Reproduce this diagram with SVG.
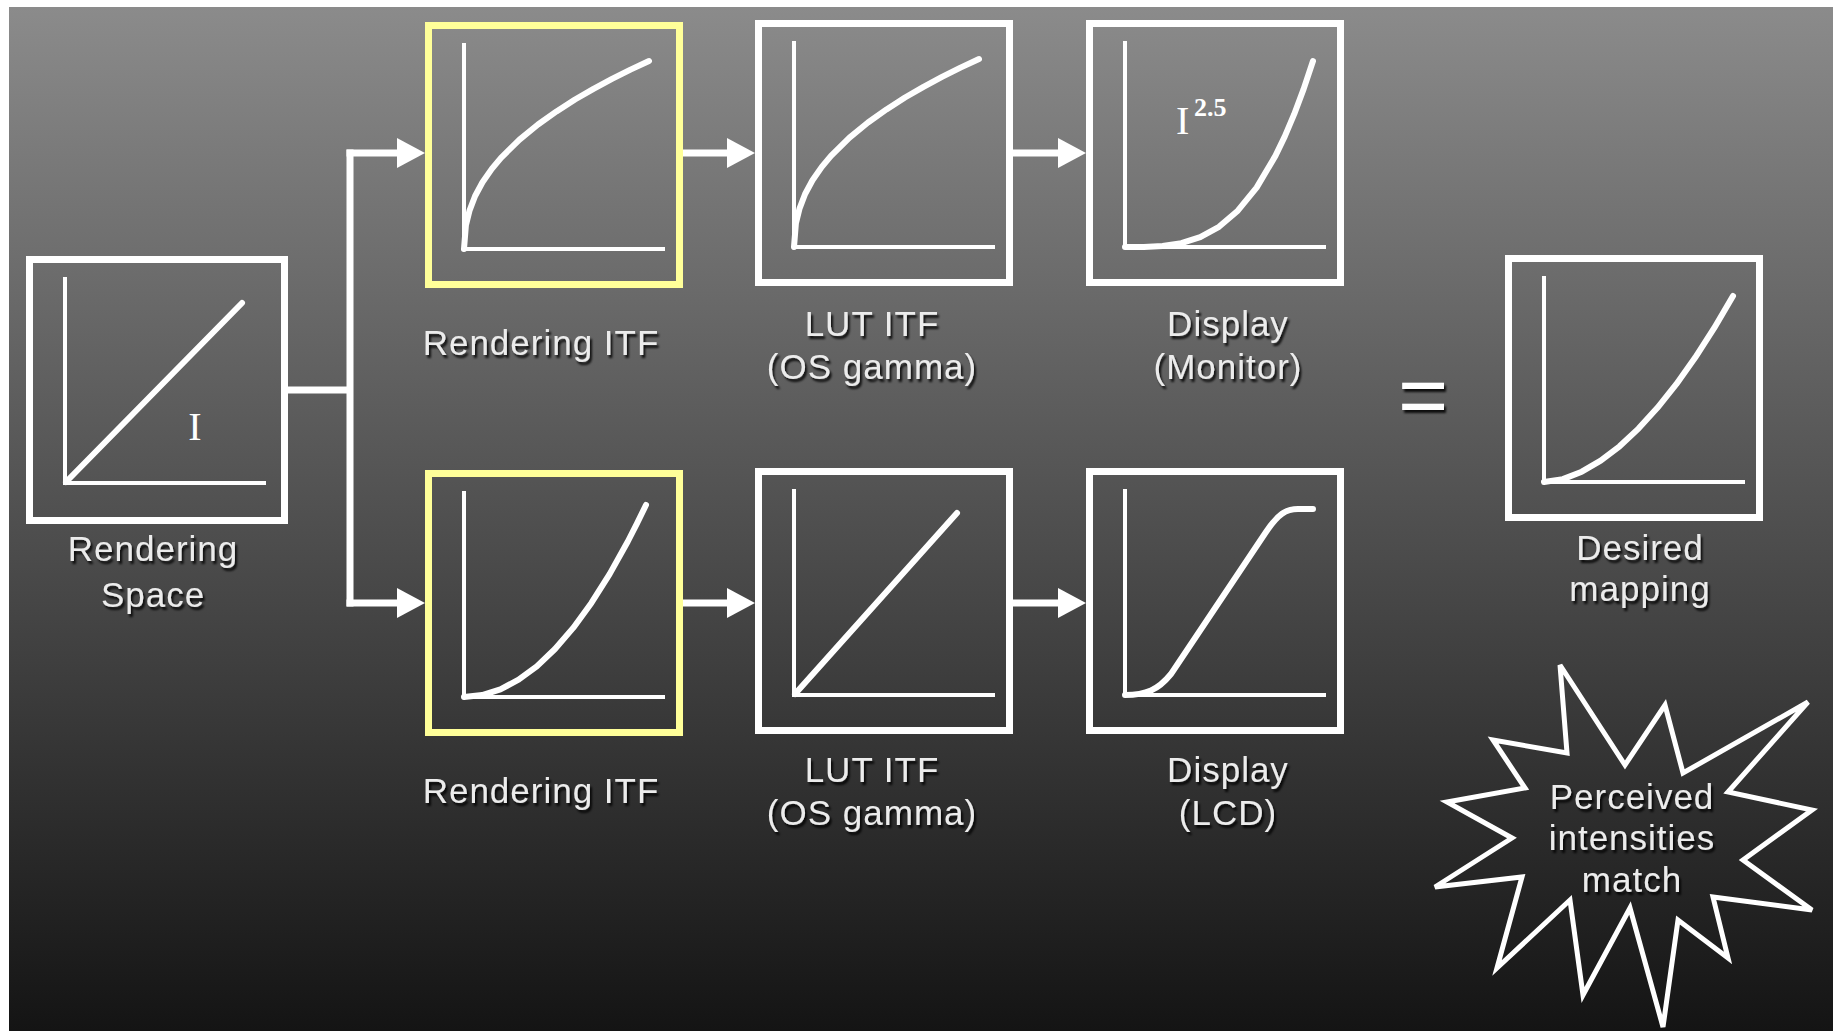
<svg xmlns="http://www.w3.org/2000/svg" width="1841" height="1031" viewBox="0 0 1841 1031">
<defs>
<linearGradient id="bg" x1="0" y1="0" x2="0" y2="1">
<stop offset="0" stop-color="#8b8b8b"/>
<stop offset="1" stop-color="#141414"/>
</linearGradient>
<filter id="sh" x="-10%" y="-20%" width="130%" height="150%">
<feDropShadow dx="2" dy="3" stdDeviation="1" flood-color="#000" flood-opacity="0.85"/>
</filter>
<marker id="ah" markerUnits="userSpaceOnUse" markerWidth="30" markerHeight="32" refX="4" refY="15" orient="auto">
<path d="M0,0 L28,15 L0,30 Z" fill="#fff"/>
</marker>
</defs>
<style>
.box{fill:none;stroke:#fff;stroke-width:7}
.ybox{fill:none;stroke:#ffff99;stroke-width:7}
.axis{fill:none;stroke:#fff;stroke-width:4}
.curve{fill:none;stroke:#fff;stroke-width:6;stroke-linejoin:round;stroke-linecap:round}
.conn{fill:none;stroke:#fff;stroke-width:7}
.lbl{font-family:"Liberation Sans",Arial,sans-serif;font-size:35px;letter-spacing:1px;fill:#ececec;text-anchor:middle;filter:url(#sh)}
.ser{font-family:"Liberation Serif","Times New Roman",serif;fill:#fff}
</style>
<rect x="9" y="7" width="1824" height="1024" fill="url(#bg)"/>

<g id="connectors">
<path class="conn" d="M288,390 H350"/>
<path class="conn" d="M350,149.5 V606.5"/>
<path class="conn" d="M346.5,153 H401" marker-end="url(#ah)"/>
<path class="conn" d="M346.5,603 H401" marker-end="url(#ah)"/>
<path class="conn" d="M683,153 H731" marker-end="url(#ah)"/>
<path class="conn" d="M1013,153 H1062" marker-end="url(#ah)"/>
<path class="conn" d="M683,603 H731" marker-end="url(#ah)"/>
<path class="conn" d="M1013,603 H1062" marker-end="url(#ah)"/>
</g>

<g id="rendering-space">
<g transform="translate(26,256)">
<rect class="box" x="3.5" y="3.5" width="255" height="261"/>
<path class="axis" d="M39,21 V227 H240"/>
<path class="curve" d="M40,226 L216,47"/>
</g>
<text class="ser" x="195" y="440" font-size="40" text-anchor="middle">I</text>
<text class="lbl" x="153" y="561">Rendering</text>
<text class="lbl" x="153" y="607">Space</text>
</g>

<g id="rendering-itf-top">
<g transform="translate(425,22)">
<rect class="ybox" x="3.5" y="3.5" width="251" height="259"/>
<path class="axis" d="M39,21 V227 H240"/>
<polyline class="curve" points="39,227 40.9,203.3 44.6,188.3 50.1,174 57.5,160.3 66.8,146.9 76,135.8 94.5,117.6 113,102.5 131.5,89.4 150,77.5 168.5,66.8 187,56.9 205.5,47.6 224,39"/>
</g>
<text class="lbl" x="541" y="355">Rendering ITF</text>
</g>

<g id="lut-itf-top">
<g transform="translate(755,20)">
<rect class="box" x="3.5" y="3.5" width="251" height="259"/>
<path class="axis" d="M39,21 V227 H240"/>
<polyline class="curve" points="39,227 40.9,203.3 44.6,188.3 50.1,174 57.5,160.3 66.8,146.9 76,135.8 94.5,117.6 113,102.5 131.5,89.4 150,77.5 168.5,66.8 187,56.9 205.5,47.6 224,39"/>
</g>
<text class="lbl" x="872" y="336">LUT ITF</text>
<text class="lbl" x="872" y="379">(OS gamma)</text>
</g>

<g id="display-monitor">
<g transform="translate(1086,20)">
<rect class="box" x="3.5" y="3.5" width="251" height="259"/>
<path class="axis" d="M39,21 V227 H240"/>
<polyline class="curve" points="39,227 57.8,226.9 76.6,225.9 95.4,223.1 114.2,217.1 133,206.8 151.8,190.7 170.6,167.6 189.4,135.9 198.8,116.4 208.2,94.2 217.6,69.1 227,41"/>
</g>
<text class="ser" x="1176" y="134" font-size="40">I</text>
<text class="ser" x="1194" y="116" font-size="26" font-weight="bold">2.5</text>
<text class="lbl" x="1228" y="336">Display</text>
<text class="lbl" x="1228" y="379">(Monitor)</text>
</g>

<g id="rendering-itf-bottom">
<g transform="translate(425,470)">
<rect class="ybox" x="3.5" y="3.5" width="251" height="259"/>
<path class="axis" d="M39,21 V227 H240"/>
<polyline class="curve" points="39,227 57.2,225.1 75.4,219.3 93.6,209.7 111.8,196.3 130,179 148.2,157.9 166.4,132.9 184.6,104.1 202.8,71.5 211.9,53.7 221,35"/>
</g>
<text class="lbl" x="541" y="803">Rendering ITF</text>
</g>

<g id="lut-itf-bottom">
<g transform="translate(755,468)">
<rect class="box" x="3.5" y="3.5" width="251" height="259"/>
<path class="axis" d="M39,21 V227 H240"/>
<path class="curve" d="M40,226 L202,45"/>
</g>
<text class="lbl" x="872" y="782">LUT ITF</text>
<text class="lbl" x="872" y="825">(OS gamma)</text>
</g>

<g id="display-lcd">
<g transform="translate(1086,468)">
<rect class="box" x="3.5" y="3.5" width="251" height="259"/>
<path class="axis" d="M39,21 V227 H240"/>
<path class="curve" d="M39,227 C60,227 72,222 85,206 L180,64 C192,46 200,41 212,41 L227,41"/>
</g>
<text class="lbl" x="1228" y="782">Display</text>
<text class="lbl" x="1228" y="825">(LCD)</text>
</g>

<g id="equals">
<text x="1398" y="424" font-family="'Liberation Sans',Arial,sans-serif" font-size="86" fill="#fff" filter="url(#sh)">=</text>
</g>

<g id="desired-mapping">
<g transform="translate(1505,255)">
<rect class="box" x="3.5" y="3.5" width="251" height="259"/>
<path class="axis" d="M39,21 V227 H240"/>
<polyline class="curve" points="39,227 57.9,224.1 76.8,216.7 95.7,205.7 114.6,191.3 133.5,173.6 152.4,152.8 171.3,129.2 190.2,102.6 209.1,73.2 228,41"/>
</g>
<text class="lbl" x="1640" y="560">Desired</text>
<text class="lbl" x="1640" y="601">mapping</text>
</g>

<g id="perceived-match">
<polygon fill="none" stroke="#fff" stroke-width="5" stroke-linejoin="miter" points="1560,665 1625,765 1665,705 1683,773 1808,702 1728,792 1812,810 1743,860 1812,910 1713,897 1728,958 1678,920 1663,1027 1630,908 1583,995 1570,900 1497,968 1522,877 1435,887 1512,838 1447,802 1525,788 1493,740 1567,753"/>
<text class="lbl" x="1632" y="809">Perceived</text>
<text class="lbl" x="1632" y="850">intensities</text>
<text class="lbl" x="1632" y="892">match</text>
</g>
</svg>
